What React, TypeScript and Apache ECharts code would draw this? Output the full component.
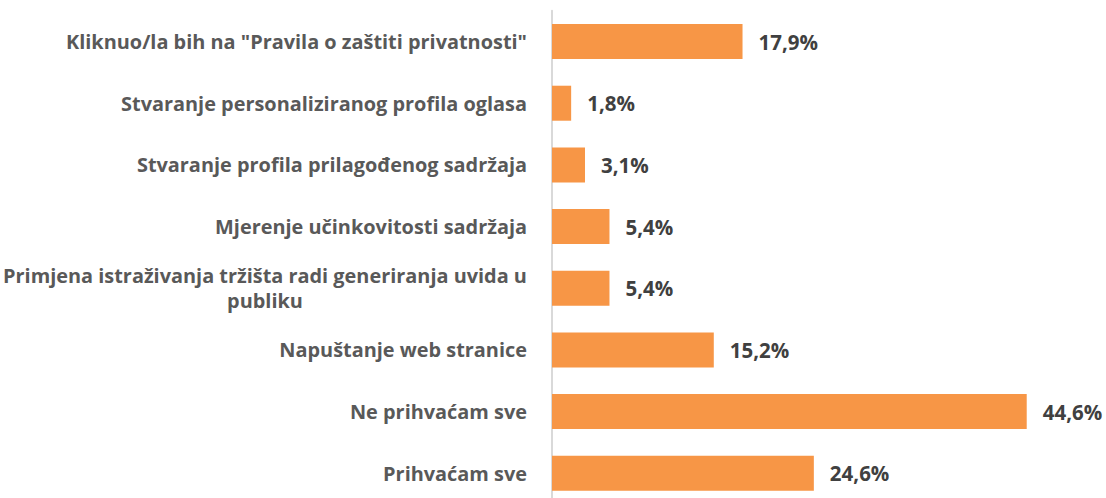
import React, { useEffect, useRef } from "react";
import * as echarts from "echarts";

const categories = [
  'Kliknuo/la bih na "Pravila o zaštiti privatnosti"',
  "Stvaranje personaliziranog profila oglasa",
  "Stvaranje profila prilagođenog sadržaja",
  "Mjerenje učinkovitosti sadržaja",
  "Primjena istraživanja tržišta radi generiranja uvida u\npubliku",
  "Napuštanje web stranice",
  "Ne prihvaćam sve",
  "Prihvaćam sve",
];
const values = [17.9, 1.8, 3.1, 5.4, 5.4, 15.2, 44.6, 24.6];

const FONT = "Open Sans";
const CAT_SIZE = 19.9;
const VAL_SIZE = 20.5;

function measure(text: string): number {
  const c = document.createElement("canvas").getContext("2d")!;
  c.font = `bold ${CAT_SIZE}px "${FONT}"`;
  return c.measureText(text).width;
}

export default function App() {
  const ref = useRef<HTMLDivElement>(null);
  useEffect(() => {
    const chart = echarts.init(ref.current!, null, { renderer: "svg" });
    const multiWidth = Math.ceil(
      Math.max(
        ...categories
          .filter((c) => c.includes("\n"))
          .flatMap((c) => c.split("\n").map(measure))
      )
    );
    chart.setOption({
      animation: false,
      grid: {
        left: 552,
        width: 532.2,
        top: 10.7,
        height: 493.4,
        containLabel: false,
        outerBoundsMode: "none",
      },
      xAxis: { type: "value", min: 0, max: 50, show: false },
      yAxis: {
        type: "category",
        inverse: true,
        data: categories,
        axisLine: { show: true, lineStyle: { color: "#D9D9D9", width: 2 } },
        axisTick: { show: false },
        axisLabel: {
          margin: 25,
          fontFamily: FONT,
          fontWeight: "bold",
          fontSize: CAT_SIZE,
          color: "#595959",
          lineHeight: 25,
          formatter: (v: string) =>
            v.includes("\n") ? v.split("\n").map((l) => `{c|${l}}`).join("\n") : v,
          rich: {
            c: {
              width: multiWidth,
              align: "center",
              fontFamily: FONT,
              fontWeight: "bold",
              fontSize: CAT_SIZE,
              color: "#595959",
              lineHeight: 25,
            },
          },
        },
      },
      series: [
        {
          type: "bar",
          data: values,
          barWidth: 35,
          itemStyle: { color: "#F79646" },
          label: {
            show: true,
            position: "right",
            distance: 16,
            fontFamily: FONT,
            fontWeight: "bold",
            fontSize: VAL_SIZE,
            color: "#404040",
            formatter: (p: any) => p.value.toFixed(1).replace(".", ",") + "%",
          },
        },
      ],
    });
    return () => chart.dispose();
  }, []);
  return (
    <div
      ref={ref}
      style={{ position: "fixed", left: 0, top: 0, width: 1106, height: 498, background: "#fff" }}
    />
  );
}
